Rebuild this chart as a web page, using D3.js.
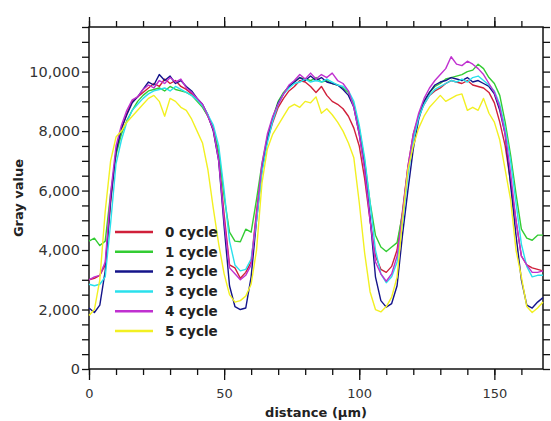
<!DOCTYPE html>
<html>
<head>
<meta charset="utf-8">
<script src="https://cdn.jsdelivr.net/npm/d3@7"></script>
<style>
  body { margin: 0; background: #fff; }
  .tick text { font-family: "DejaVu Sans", Verdana, sans-serif; font-size: 13px; fill: #333; }
  .yaxis .tick text { font-size: 14.5px; }
  .label { font-family: "DejaVu Sans", Verdana, sans-serif; font-weight: bold; font-size: 13px; fill: #222; }
</style>
</head>
<body>
<script>
// distance samples (µm)
var distance = [0, 2, 4, 6, 8, 10, 12, 14, 16, 18, 20, 22, 24, 26, 28, 30, 32, 34, 36, 38,
  40, 42, 44, 46, 48, 50, 52, 54, 56, 58, 60, 62, 64, 66, 68, 70, 72, 74, 76, 78,
  80, 82, 84, 86, 88, 90, 92, 94, 96, 98, 100, 102, 104, 106, 108, 110, 112, 114, 116, 118,
  120, 122, 124, 126, 128, 130, 132, 134, 136, 138, 140, 142, 144, 146, 148, 150, 152, 154, 156, 158,
  160, 162, 164, 166, 168];

var cycleNames = ["0 cycle", "1 cycle", "2 cycle", "3 cycle", "4 cycle", "5 cycle"];
var cycleColors = ["#d0203a", "#33cc33", "#14148a", "#2ae0ec", "#c030d0", "#f2f022"];

var cycle0 = [3000, 3050, 3150, 3500, 5600, 7300, 8050, 8600, 9000, 9150, 9300, 9450, 9600, 9500, 9750, 9600, 9700, 9500, 9400, 9250,
  9050, 8850, 8500, 8050, 7100, 5200, 3500, 3400, 3050, 3250, 3600, 5300, 6800, 7700, 8300, 8800, 9100, 9350, 9500, 9700,
  9650, 9500, 9300, 9500, 9200, 9000, 8900, 8750, 8500, 8100, 7500, 6400, 5000, 3800, 3350, 3250, 3450, 4000, 5300, 6800,
  7900, 8500, 8900, 9200, 9350, 9450, 9600, 9700, 9650, 9600, 9700, 9550, 9500, 9450, 9300, 8950, 8300, 7500, 6300, 5000,
  3800, 3500, 3400, 3350, 3300];
var cycle1 = [4300, 4400, 4150, 4300, 5900, 7200, 7900, 8350, 8700, 9000, 9200, 9350, 9400, 9450, 9350, 9500, 9400, 9350, 9300, 9200,
  9000, 8800, 8500, 8100, 7300, 5800, 4600, 4300, 4280, 4700, 4600, 5700, 6900, 7800, 8450, 9000, 9300, 9500, 9650, 9800,
  9750, 9700, 9800, 9650, 9700, 9600, 9550, 9450, 9300, 8900, 8100, 7000, 5600, 4500, 4100, 3950, 4100, 4250, 5200, 6700,
  7800, 8500, 9000, 9300, 9500, 9600, 9750, 9800, 9850, 9900, 10000, 10050, 10250, 10100, 9800, 9600, 9200, 8300, 7200, 5900,
  4700, 4400, 4330, 4500, 4500];
var cycle2 = [2050, 1900, 2150, 3300, 5700, 7300, 8100, 8550, 8950, 9150, 9400, 9650, 9550, 9900, 9700, 9850, 9600, 9700, 9500, 9350,
  9100, 8900, 8550, 8000, 7000, 4800, 2800, 2100, 2000, 2050, 3100, 5000, 6700, 7700, 8400, 8950, 9250, 9500, 9650, 9800,
  9700, 9850, 9700, 9800, 9650, 9600, 9550, 9400, 9200, 8800, 7900, 6800, 5100, 3100, 2300, 2080, 2200, 2800, 4500, 6000,
  7400, 8400, 9000, 9300, 9550, 9650, 9700, 9800, 9750, 9700, 9800, 9650, 9700, 9600, 9500, 9250, 8700, 7900, 6200, 4500,
  3000, 2150, 2050, 2250, 2400];
var cycle3 = [2850, 2800, 2850, 3100, 4900, 6900, 7700, 8300, 8700, 8900, 9100, 9250, 9350, 9400, 9450, 9350, 9500, 9400, 9300, 9200,
  9050, 8850, 8550, 8200, 7500, 6000, 4300, 3500, 3300, 3350, 3700, 5000, 6600, 7600, 8350, 8900, 9250, 9450, 9600, 9650,
  9750, 9650, 9700, 9650, 9750, 9650, 9550, 9500, 9350, 9000, 8200, 7100, 5600, 4000, 3200, 2900, 3100, 3600, 4900, 6500,
  7700, 8450, 8900, 9200, 9400, 9500, 9600, 9700, 9650, 9750, 9650, 9800, 9850, 9700, 9550, 9350, 8900, 8100, 7000, 5600,
  4200, 3450, 3100, 3150, 3150];
var cycle4 = [3000, 3100, 3150, 3600, 5900, 7500, 8200, 8700, 9050, 9150, 9400, 9550, 9450, 9700, 9600, 9800, 9650, 9750, 9450, 9300,
  9100, 8900, 8500, 8050, 7000, 5000, 3400, 3200, 3000, 3150, 3500, 5200, 6900, 7900, 8500, 8900, 9250, 9550, 9700, 9900,
  9750, 9950, 9750, 9900, 9800, 9950, 9700, 9600, 9350, 8800, 7900, 6700, 5000, 3600, 3200, 2950, 3200, 3800, 5200, 6800,
  7900, 8600, 9100, 9450, 9700, 9900, 10100, 10500, 10250, 10200, 10350, 10250, 10100, 9900, 9600, 9300, 8800, 7900, 6600, 5000,
  3800, 3500, 3250, 3250, 3300];
var cycle5 = [1800, 2000, 3000, 5300, 7000, 7800, 8000, 8300, 8500, 8700, 8900, 9100, 9200, 9000, 8500, 9100, 9000, 8800, 8700, 8400,
  8000, 7600, 6700, 5400, 4200, 3200, 2500, 2250, 2300, 2450, 2850, 4000, 6250, 7400, 7900, 8200, 8500, 8800, 8900, 8800,
  9000, 8950, 9150, 8600, 8750, 8550, 8300, 8000, 7600, 7100, 5600, 3900, 2600, 2000, 1920, 2100, 2420, 3090, 5000, 6700,
  7500, 8100, 8500, 8800, 9000, 9200, 9000, 9100, 9200, 9250, 8700, 8800, 8700, 9100, 8600, 8300, 7700, 6700, 5700, 4000,
  3100, 2100, 1900, 2050, 2250];

var allCycles = [cycle0, cycle1, cycle2, cycle3, cycle4, cycle5];

var yTicks = d3.range(0, 11501, 500);
var xMinor = d3.range(0, 168, 10);
var xMajor = [0, 50, 100, 150];

var width = 551, height = 421;
var plotLeft = 89, plotTop = 27, plotRight = 543, plotBottom = 369;

var svg = d3.select("body").append("svg")
  .attr("width", width)
  .attr("height", height);

var x = d3.scaleLinear().domain([0, 168]).range([plotLeft, plotRight]);
var y = d3.scaleLinear().domain([0, 11500]).range([plotBottom, plotTop]);

// left axis
svg.append("g")
  .attr("class", "yaxis")
  .attr("transform", "translate(" + plotLeft + ",0)")
  .call(d3.axisLeft(y).tickValues(yTicks).tickSize(7).tickSizeOuter(0).tickPadding(2)
    .tickFormat(function (d) { return d % 2000 === 0 ? d3.format(",")(d) : ""; }))
  .call(function (g) { g.select(".domain").remove(); });

// right axis
svg.append("g")
  .attr("transform", "translate(" + plotRight + ",0)")
  .call(d3.axisRight(y).tickValues(yTicks).tickSize(7).tickSizeOuter(0).tickFormat(""))
  .call(function (g) { g.select(".domain").remove(); });

// bottom axis, minor + major
svg.append("g")
  .attr("transform", "translate(0," + plotBottom + ")")
  .call(d3.axisBottom(x).tickValues(xMinor).tickSize(6).tickSizeOuter(0).tickFormat(""))
  .call(function (g) { g.select(".domain").remove(); });
svg.append("g")
  .attr("transform", "translate(0," + plotBottom + ")")
  .call(d3.axisBottom(x).tickValues(xMajor).tickSize(11).tickSizeOuter(0).tickPadding(9))
  .call(function (g) { g.select(".domain").remove(); });

// top axis, minor + major
svg.append("g")
  .attr("transform", "translate(0," + plotTop + ")")
  .call(d3.axisTop(x).tickValues(xMinor).tickSize(6).tickSizeOuter(0).tickFormat(""))
  .call(function (g) { g.select(".domain").remove(); });
svg.append("g")
  .attr("transform", "translate(0," + plotTop + ")")
  .call(d3.axisTop(x).tickValues(xMajor).tickSize(10).tickSizeOuter(0).tickFormat(""))
  .call(function (g) { g.select(".domain").remove(); });

svg.selectAll(".tick line").attr("stroke", "#111").attr("stroke-width", 1.3);

// frame
svg.append("rect")
  .attr("x", plotLeft).attr("y", plotTop)
  .attr("width", plotRight - plotLeft).attr("height", plotBottom - plotTop)
  .attr("fill", "none").attr("stroke", "#111").attr("stroke-width", 1.5);

// lines
var line = d3.line()
  .x(function (d, i) { return x(distance[i]); })
  .y(function (d) { return y(d); });

svg.append("g").selectAll("path")
  .data(allCycles)
  .enter().append("path")
  .attr("d", line)
  .attr("fill", "none")
  .attr("stroke", function (d, i) { return cycleColors[i]; })
  .attr("stroke-width", 1.4)
  .attr("stroke-linejoin", "round");

// legend
var legend = svg.append("g").selectAll("g")
  .data(cycleNames)
  .enter().append("g")
  .attr("transform", function (d, i) { return "translate(115," + (232 + i * 19.8) + ")"; });

legend.append("line")
  .attr("x1", 0).attr("x2", 38)
  .attr("stroke", function (d, i) { return cycleColors[i]; })
  .attr("stroke-width", 2.5);

legend.append("text")
  .attr("class", "label")
  .attr("x", 50)
  .attr("dy", "0.35em")
  .style("font-size", "13.5px")
  .text(function (d) { return d; });

// axis titles
svg.append("text")
  .attr("class", "label")
  .attr("x", (plotLeft + plotRight) / 2)
  .attr("y", 417)
  .attr("text-anchor", "middle")
  .text("distance (µm)");

svg.append("text")
  .attr("class", "label")
  .attr("transform", "translate(23," + (plotTop + plotBottom) / 2 + ") rotate(-90)")
  .attr("text-anchor", "middle")
  .text("Gray value");
</script>
</body>
</html>
